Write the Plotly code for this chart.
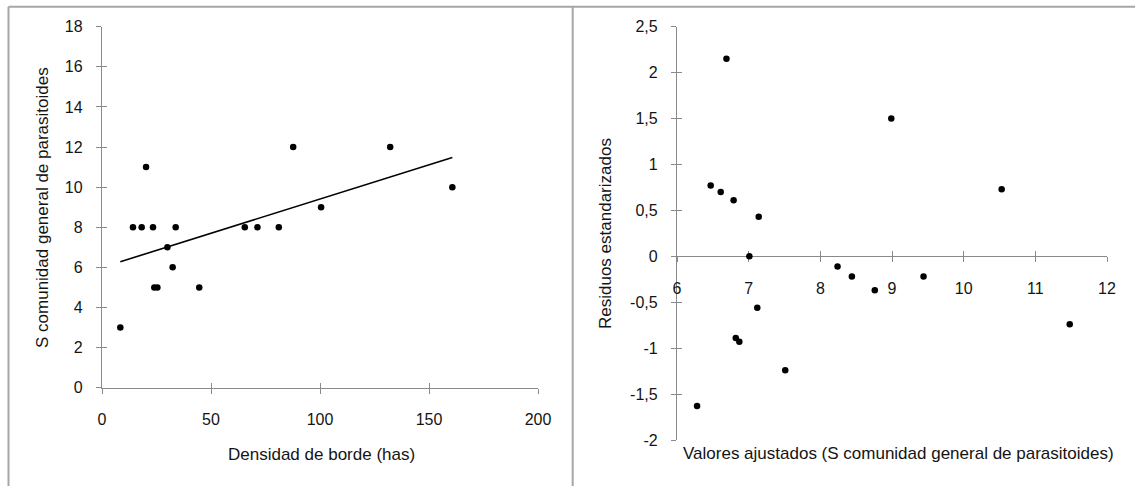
import plotly.graph_objects as go

# ---------------- data ----------------
densidad = [8.4, 14.2, 18.2, 20.2, 23.4, 24.0, 25.4, 30.0, 32.4, 33.8, 44.6,
            65.5, 71.3, 81.1, 87.7, 100.5, 132.2, 160.7]
s_comunidad = [3, 8, 8, 11, 8, 5, 5, 7, 6, 8, 5, 8, 8, 8, 12, 9, 12, 10]
ajustados = [6.28, 6.47, 6.61, 6.69, 6.79, 6.82, 6.87, 7.01, 7.12, 7.14, 7.51,
             8.24, 8.44, 8.76, 8.99, 9.44, 10.53, 11.48]
residuos = [-1.63, 0.77, 0.70, 2.15, 0.61, -0.89, -0.93, 0.00, -0.56, 0.43, -1.24,
            -0.11, -0.22, -0.37, 1.50, -0.22, 0.73, -0.74]

left_xticks = [0, 50, 100, 150, 200]
left_yticks = [0, 2, 4, 6, 8, 10, 12, 14, 16, 18]
right_xticks = [6, 7, 8, 9, 10, 11, 12]
right_yticks = [-2, -1.5, -1, -0.5, 0, 0.5, 1, 1.5, 2, 2.5]
right_yticklabels = ["-2", "-1,5", "-1", "-0,5", "0", "0,5", "1", "1,5", "2", "2,5"]

left_xtitle = "Densidad de borde (has)"
left_ytitle = "S comunidad general de parasitoides"
right_xtitle = "Valores ajustados (S comunidad general de parasitoides)"
right_ytitle = "Residuos estandarizados"

# ---------------- layout geometry (pixels) ----------------
W, H = 1135, 486
FONT = "Liberation Sans, Arial, sans-serif"
TXT = "#141414"
AX = "#8a8a8a"
BORDER = "#a6a6a6"


def px(x):
    return x / W


def py(y):
    return (H - y) / H


L_x0, L_x1, L_y0, L_y1 = 102, 538, 387.7, 26.7
R_x0, R_x1, R_y0, R_y1 = 677, 1107, 440, 26.7

L_xrange = [0, 200]
L_yrange = [0, 18]
R_xrange = [6, 12]
R_yrange = [-2, 2.5]

L_xdom = [px(L_x0), px(L_x1)]
L_ydom = [py(L_y0), py(L_y1)]
R_xdom = [px(R_x0), px(R_x1)]
R_ydom = [py(R_y0), py(R_y1)]
# position of the right x-axis (where y = 0)
R_xpos = R_ydom[0] + (0 - R_yrange[0]) / (R_yrange[1] - R_yrange[0]) * (R_ydom[1] - R_ydom[0])

# trend line through fitted values, ordered by x
order = sorted(range(len(densidad)), key=lambda i: densidad[i])
trend_x = [densidad[order[0]], densidad[order[-1]]]
trend_y = [ajustados[order[0]], ajustados[order[-1]]]

fig = go.Figure()

# empty traces on the main axes (which carry lines and tick labels)
fig.add_trace(go.Scatter(x=[None], y=[None], xaxis="x", yaxis="y",
                         showlegend=False, hoverinfo="skip"))
fig.add_trace(go.Scatter(x=[None], y=[None], xaxis="x2", yaxis="y2",
                         showlegend=False, hoverinfo="skip"))

# data on the overlay axes so the marks sit above every tick mark
fig.add_trace(go.Scatter(x=trend_x, y=trend_y, mode="lines",
                         line=dict(color="#000000", width=1.6),
                         xaxis="x3", yaxis="y3", showlegend=False, hoverinfo="skip"))
fig.add_trace(go.Scatter(x=densidad, y=s_comunidad, mode="markers",
                         marker=dict(color="#000000", size=6.5),
                         xaxis="x3", yaxis="y3", showlegend=False))
fig.add_trace(go.Scatter(x=ajustados, y=residuos, mode="markers",
                         marker=dict(color="#000000", size=6.5),
                         xaxis="x4", yaxis="y4", showlegend=False))

tickfont = dict(family=FONT, size=16, color=TXT)
common = dict(showgrid=False, zeroline=False, tickfont=tickfont, automargin=False,
              tickcolor=AX, tickwidth=1.3, ticklen=5, layer="below traces")
inner = dict(showticklabels=False, showline=False, showgrid=False, zeroline=False,
             automargin=False, ticks="inside", tickcolor=AX, tickwidth=1.3, ticklen=5,
             layer="below traces")

fig.update_layout(
    width=W, height=H,
    margin=dict(l=0, r=0, t=0, b=0, autoexpand=False),
    paper_bgcolor="white", plot_bgcolor="rgba(0,0,0,0)",
    xaxis=dict(domain=L_xdom, range=L_xrange, anchor="y",
               tickvals=left_xticks, ticks="outside",
               showline=True, linecolor=AX, linewidth=1.3,
               ticklabelstandoff=12, **common),
    yaxis=dict(domain=L_ydom, range=L_yrange, anchor="x",
               tickvals=left_yticks, ticks="outside",
               showline=True, linecolor=AX, linewidth=1.3,
               ticklabelstandoff=10, **common),
    xaxis2=dict(domain=R_xdom, range=R_xrange, anchor="free", position=R_xpos,
                tickvals=right_xticks, ticks="outside",
                showline=True, linecolor=AX, linewidth=1.3,
                ticklabelstandoff=12, **common),
    yaxis2=dict(domain=R_ydom, range=R_yrange, anchor="x2",
                tickvals=right_yticks, ticktext=right_yticklabels, ticks="outside",
                showline=True, linecolor=AX, linewidth=1.3,
                ticklabelstandoff=10, **common),
    # overlay axes: inner half of the crossing tick marks
    xaxis3=dict(overlaying="x", range=L_xrange, anchor="y", tickvals=left_xticks, **inner),
    yaxis3=dict(overlaying="y", range=L_yrange, anchor="x", tickvals=left_yticks, **inner),
    xaxis4=dict(overlaying="x2", range=R_xrange, anchor="free", position=R_xpos,
                tickvals=right_xticks, **inner),
    yaxis4=dict(overlaying="y2", range=R_yrange, anchor="x2", tickvals=right_yticks, **inner),
)

titlefont = dict(family=FONT, size=17, color=TXT)
annotations = [
    dict(text=left_xtitle, x=px(321.7), y=py(454), xref="paper", yref="paper",
         showarrow=False, font=titlefont, xanchor="center", yanchor="middle"),
    dict(text=left_ytitle, x=px(42), y=py(208), xref="paper", yref="paper",
         showarrow=False, font=titlefont, textangle=-90, xanchor="center", yanchor="middle"),
    dict(text=right_xtitle, x=px(898.5), y=py(453), xref="paper", yref="paper",
         showarrow=False, font=titlefont, xanchor="center", yanchor="middle"),
    dict(text=right_ytitle, x=px(605), y=py(234), xref="paper", yref="paper",
         showarrow=False, font=titlefont, textangle=-90, xanchor="center", yanchor="middle"),
]
fig.update_layout(annotations=annotations)

border = dict(color=BORDER, width=2)
shapes = [
    dict(type="line", xref="paper", yref="paper", x0=px(8.5), x1=px(8.5),
         y0=0, y1=py(6.7), line=border, layer="below"),
    dict(type="line", xref="paper", yref="paper", x0=px(8.5), x1=1,
         y0=py(6.7), y1=py(6.7), line=border, layer="below"),
    dict(type="line", xref="paper", yref="paper", x0=px(572.7), x1=px(572.7),
         y0=0, y1=py(6.7), line=border, layer="below"),
]
fig.update_layout(shapes=shapes)

fig.write_html(
    "out.html",
    config={"displayModeBar": False},
    post_script="document.body.style.margin='0';document.body.style.overflow='hidden';",
)
